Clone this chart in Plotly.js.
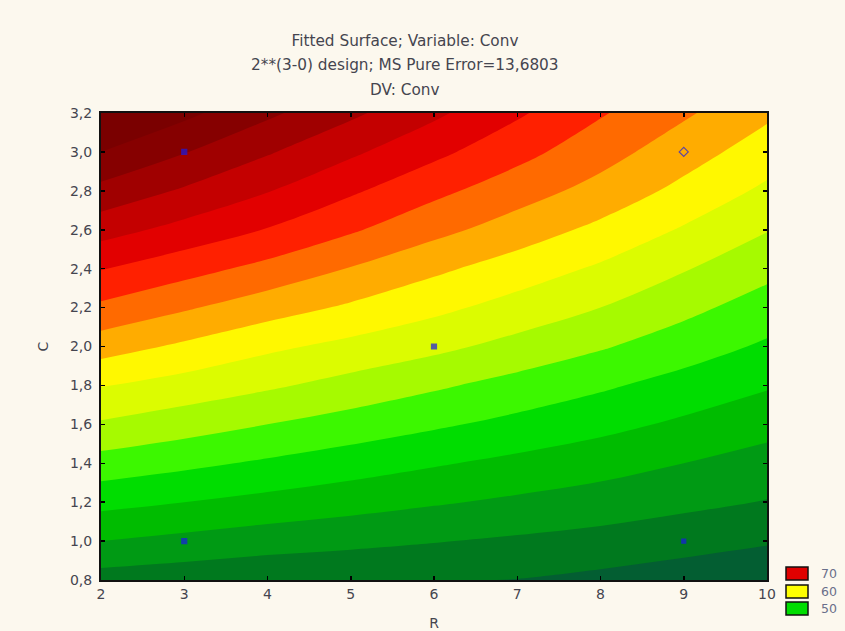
<!DOCTYPE html>
<html>
<head>
<meta charset="utf-8">
<script src="https://cdn.plot.ly/plotly-3.0.1.min.js"></script>
<style>
  html, body { margin: 0; padding: 0; background: #FCF8EE; }
  #chart { width: 845px; height: 631px; }
</style>
</head>
<body>
<div id="chart"></div>
<script>
// ---- data ----
const R = [2, 3, 4, 5, 6, 7, 8, 9, 10];
const C = [0.8, 1.0, 1.2, 1.4, 1.6, 1.8, 2.0, 2.2, 2.4, 2.6, 2.8, 3.0, 3.2];
// Conv values: one row per C value, columns follow R
const conv_C080 = [47.1, 46.75, 46.4, 46.25, 46.15, 45.95, 45.5, 45.0, 44.5];
const conv_C100 = [50.0, 49.45, 48.9, 48.5, 48.1, 47.7, 47.3, 46.75, 46.2];
const conv_C120 = [52.6, 52.0, 51.4, 50.8, 50.2, 49.65, 49.1, 48.5, 47.9];
const conv_C140 = [55.2, 54.45, 53.7, 52.95, 52.2, 51.5, 50.8, 50.0, 49.2];
const conv_C160 = [57.75, 56.9, 56.0, 55.15, 54.3, 53.45, 52.6, 51.65, 50.7];
const conv_C180 = [60.1, 59.2, 58.3, 57.3, 56.3, 55.3, 54.3, 53.25, 52.2];
const conv_C200 = [62.9, 61.65, 60.4, 59.45, 58.5, 57.35, 56.2, 54.95, 53.7];
const conv_C220 = [65.6, 64.25, 62.9, 61.7, 60.5, 59.25, 58.0, 56.55, 55.1];
const conv_C240 = [68.1, 66.75, 65.4, 63.9, 62.4, 61.05, 59.7, 58.15, 56.6];
const conv_C260 = [70.8, 69.35, 67.9, 66.25, 64.6, 63.05, 61.5, 59.8, 58.1];
const conv_C280 = [73.4, 71.75, 70.1, 68.3, 66.5, 64.9, 63.3, 61.45, 59.6];
const conv_C300 = [76.0, 74.1, 72.2, 70.35, 68.5, 66.65, 64.8, 62.9, 61.0];
const conv_C320 = [78.6, 76.5, 74.4, 72.4, 70.4, 68.3, 66.2, 64.3, 62.4];
// design points
const ptR = [3, 9, 6, 3, 9];
const ptC = [3.0, 3.0, 2.0, 1.0, 1.0];
// tick labels
const xTicks = [2, 3, 4, 5, 6, 7, 8, 9, 10];
const yTicks = [0.8, 1.0, 1.2, 1.4, 1.6, 1.8, 2.0, 2.2, 2.4, 2.6, 2.8, 3.0, 3.2];
// legend
const legendLabels = ['70', '60', '50'];

// ---- styling ----
const levelStart = 46, levelEnd = 76, levelStep = 2;
const bandColors = [
  '#035E32', '#00791E', '#009A14', '#00BC00', '#00DD00', '#3CF800',
  '#A6FA00', '#DCFC00', '#FFF800', '#FFAC00', '#FF6A00', '#FF2000',
  '#E20000', '#C40000', '#A00000', '#860000', '#7A0000'
];
const legendColors = ['#E00000', '#FFFF00', '#00DD00'];
const FONT = 'DejaVu Sans, Verdana, sans-serif';
const TXT = '#45454f';

const zGrid = [conv_C080, conv_C100, conv_C120, conv_C140, conv_C160, conv_C180,
  conv_C200, conv_C220, conv_C240, conv_C260, conv_C280, conv_C300, conv_C320];

const n = bandColors.length - 1;
const colorscale = [];
bandColors.forEach((c, k) => {
  colorscale.push([Math.max(0, (k - 0.5) / n), c]);
  colorscale.push([Math.min(1, (k + 0.5) / n), c]);
});

const contour = {
  type: 'contour',
  x: R, y: C, z: zGrid,
  autocontour: false,
  contours: { start: levelStart, end: levelEnd, size: levelStep, coloring: 'fill', showlines: false },
  line: { width: 0 },
  colorscale: colorscale,
  showscale: false,
  hoverinfo: 'skip'
};

const symbols = ['square', 'diamond-open', 'square', 'square', 'square'];
const sizes = [5, 7, 5, 5, 4];
const points = {
  type: 'scatter', mode: 'markers',
  x: ptR, y: ptC,
  marker: { color: '#1a1ae6', size: sizes, symbol: symbols, line: { color: '#1a1ae6', width: 1.2 } },
  showlegend: false, hoverinfo: 'skip'
};

// plot-area pixel geometry
const L = 101, Rr = 767, T = 113, B = 580;
const W = 845, H = 631;
const px = v => (v - L) / (Rr - L);
const py = v => (B - v) / (B - T);

const shapes = [];
const annotations = [];
const boxTops = [567, 585, 602];
legendLabels.forEach((lab, i) => {
  shapes.push({
    type: 'rect', xref: 'paper', yref: 'paper',
    x0: px(786), x1: px(808), y0: py(boxTops[i]), y1: py(boxTops[i] + 13),
    fillcolor: legendColors[i], line: { color: '#111', width: 1.5 }, layer: 'above'
  });
  annotations.push({
    xref: 'paper', yref: 'paper', x: px(819), y: py(boxTops[i] + 6.5),
    xanchor: 'left', yanchor: 'middle', showarrow: false,
    text: lab, font: { family: FONT, size: 12.5, color: '#6a6f8a' }
  });
});

const titleLines = ['Fitted Surface; Variable: Conv', '2**(3-0) design; MS Pure Error=13,6803', 'DV: Conv'];
annotations.push({
  xref: 'paper', yref: 'paper', x: px(405), y: py(65), xanchor: 'center', yanchor: 'middle',
  showarrow: false, text: titleLines[1], font: { family: FONT, size: 15.3, color: TXT }
});
annotations.push({
  xref: 'paper', yref: 'paper', x: px(405), y: py(90), xanchor: 'center', yanchor: 'middle',
  showarrow: false, text: titleLines[2], font: { family: FONT, size: 15.3, color: TXT }
});

const layout = {
  width: W, height: H,
  paper_bgcolor: '#FCF8EE', plot_bgcolor: '#FCF8EE',
  separators: ',.',
  margin: { l: L, r: W - Rr, t: T, b: H - B, pad: 0 },
  font: { family: FONT, size: 14, color: TXT },
  title: {
    text: titleLines[0], xref: 'container', yref: 'container',
    x: 405 / W, y: 1 - 41 / H, xanchor: 'center', yanchor: 'middle',
    font: { family: FONT, size: 15.3, color: TXT }
  },
  xaxis: {
    range: [2, 10], tickvals: xTicks, ticks: 'inside', ticklen: 4, tickwidth: 1.5, tickcolor: '#000',
    showline: true, linecolor: '#111', linewidth: 2, mirror: 'ticks',
    showgrid: false, zeroline: false, ticklabelstandoff: 0,
    tickfont: { family: FONT, size: 14, color: TXT },
    title: { text: 'R', standoff: 18, font: { family: FONT, size: 14, color: TXT } },
    fixedrange: true
  },
  yaxis: {
    range: [0.8, 3.2], tickvals: yTicks, tickformat: '.1f', ticks: 'inside', ticklen: 4, tickwidth: 1.5, tickcolor: '#000',
    showline: true, linecolor: '#111', linewidth: 2, mirror: 'ticks',
    showgrid: false, zeroline: false, ticklabelstandoff: 4,
    tickfont: { family: FONT, size: 14, color: TXT },
    title: { text: 'C', standoff: 18, font: { family: FONT, size: 14, color: TXT } },
    fixedrange: true
  },
  shapes: shapes,
  annotations: annotations,
  showlegend: false
};

Plotly.newPlot('chart', [contour, points], layout, { displayModeBar: false, staticPlot: true });
</script>
</body>
</html>
